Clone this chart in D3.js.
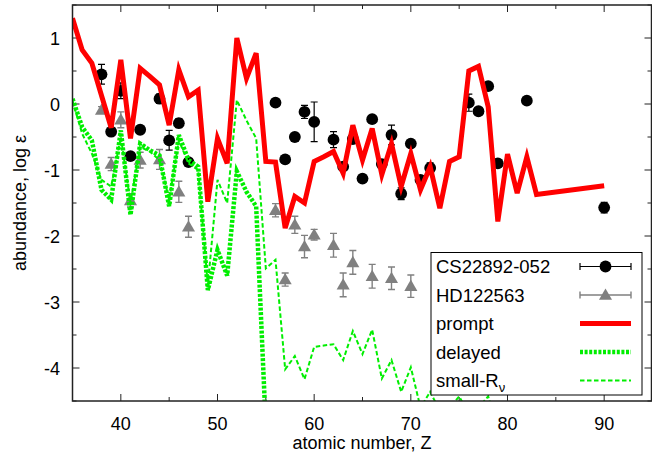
<!DOCTYPE html>
<html>
<head>
<meta charset="utf-8">
<script src="https://cdn.jsdelivr.net/npm/d3@7"></script>
<style>
  html, body { margin: 0; padding: 0; background: #fff; }
  svg { display: block; font-family: "Liberation Sans", Arial, sans-serif; }
</style>
</head>
<body>
<div id="chart"></div>
<script>
const width = 652;
const height = 460;

// CS22892-052 (black circles)
const csZ   = [38, 39, 40, 41, 42, 44, 45, 46, 47, 56, 57, 58, 59, 60, 62, 63, 64, 65, 66, 67, 68, 69, 70, 71, 72, 76, 77, 78, 79, 82, 90];
const csVal = [0.45, -0.42, 0.20, -0.79, -0.39, 0.08, -0.55, -0.29, -0.88, 0.02, -0.84, -0.50, -0.12, -0.27, -0.54, -0.95, -0.53, -1.13, -0.23, -0.91, -0.47, -1.36, -0.60, -1.15, -0.97, 0.02, -0.11, 0.27, -0.90, 0.05, -1.57];
const csErr = [0.15, 0, 0.12, 0, 0, 0.07, 0.15, 0.07, 0, 0, 0, 0, 0.1, 0.3, 0.12, 0, 0, 0, 0, 0, 0.15, 0.09, 0, 0.06, 0.08, 0.13, 0, 0, 0, 0, 0.08];

// HD122563 (grey triangles)
const hdZ   = [38, 39, 40, 41, 42, 44, 46, 47, 56, 57, 58, 59, 60, 62, 63, 64, 66, 68, 70];
const hdVal = [-0.09, -0.91, -0.24, -1.46, -0.85, -0.84, -1.33, -1.86, -1.61, -2.66, -1.83, -2.16, -1.98, -2.14, -2.74, -2.40, -2.61, -2.64, -2.76];
const hdErr = [0.05, 0.1, 0.12, 0.1, 0.12, 0.15, 0.16, 0.16, 0.1, 0.1, 0.13, 0.17, 0.08, 0.18, 0.18, 0.18, 0.18, 0.17, 0.17];

// model curves
const promptZ   = [35, 36, 37, 38, 39, 40, 41, 42, 43, 44, 45, 46, 47, 48, 49, 50, 51, 52, 53, 54, 55, 56, 57, 58, 59, 60, 61, 62, 63, 64, 65, 66, 67, 68, 69, 70, 71, 72, 73, 74, 75, 76, 77, 78, 79, 80, 81, 82, 83, 90];
const promptVal = [1.30, 0.82, 0.62, 0.13, -0.36, 0.67, -0.52, 0.54, 0.42, 0.29, -0.32, 0.52, 0.11, 0.21, -1.48, -0.52, -0.90, 1.00, 0.39, 0.77, -0.87, -0.88, -1.88, -1.40, -1.50, -0.87, -0.80, -0.72, -1.05, -0.32, -0.85, -0.37, -1.07, -0.60, -1.25, -0.75, -1.30, -0.95, -1.58, -0.87, -0.80, 0.50, 0.57, -0.04, -1.78, -0.76, -1.35, -0.80, -1.37, -1.24];

const delayedZ   = [35, 36, 37, 38, 39, 40, 41, 42, 43, 44, 45, 46, 47, 48, 49, 50, 51, 52, 53, 54, 55];
const delayedVal = [0.08, -0.35, -0.55, -1.30, -1.45, -0.40, -1.68, -0.60, -0.70, -0.78, -1.55, -0.47, -0.85, -0.95, -2.82, -2.21, -2.60, -1.02, -1.33, -1.55, -4.90];

const smallZ   = [35, 36, 37, 38, 39, 40, 41, 42, 43, 44, 45, 46, 47, 48, 49, 50, 51, 52, 53, 54, 55, 56, 57, 58, 59, 60, 61, 62, 63, 64, 65, 66, 67, 68, 69, 70, 71, 72, 73, 74, 75, 76, 77, 78, 79, 80, 81, 82, 83];
const smallVal = [0.05, -0.45, -0.75, -1.15, -1.25, -0.50, -1.50, -0.65, -0.72, -0.85, -1.45, -0.55, -0.90, -1.00, -2.75, -1.15, -1.50, 0.06, -0.25, -0.52, -2.49, -2.36, -4.02, -3.82, -4.17, -3.68, -3.66, -3.64, -3.88, -3.44, -3.79, -3.42, -4.16, -3.88, -4.36, -3.99, -4.60, -4.36, -4.65, -4.60, -4.43, -4.70, -4.60, -4.43, -4.90, -4.60, -4.80, -4.60, -4.90];

const xTicks = [40, 50, 60, 70, 80, 90];
const yTicks = [-4, -3, -2, -1, 0, 1];

const green = "#00ee00";
const fontSize = "18px";

const x = d3.scaleLinear().domain([35, 95]).range([72.5, 652.5]);
const y = d3.scaleLinear().domain([-4.5, 1.5]).range([401, 5]);
const plotLeft = x(35), plotRight = 651.5, plotTop = y(1.5), plotBottom = y(-4.5);

const svg = d3.select("#chart").append("svg")
    .attr("width", width)
    .attr("height", height);

svg.append("defs").append("clipPath").attr("id", "plotclip")
    .append("rect")
    .attr("x", plotLeft).attr("y", plotTop)
    .attr("width", plotRight - plotLeft).attr("height", plotBottom - plotTop);

const zip = (zs, vs, es) => zs.map((z, i) => ({ z: z, v: vs[i], e: es ? es[i] : 0 }));

// ticks on all four sides, pointing inwards
const ticks = svg.append("g").attr("stroke", "#222").attr("stroke-width", 1);
d3.range(35, 95.1, 5).forEach(t => {
    const len = t % 10 === 0 ? 7 : 4;
    ticks.append("line").attr("x1", x(t)).attr("x2", x(t)).attr("y1", plotBottom).attr("y2", plotBottom - len);
    ticks.append("line").attr("x1", x(t)).attr("x2", x(t)).attr("y1", plotTop).attr("y2", plotTop + len);
});
d3.range(-4.5, 1.51, 0.5).forEach(t => {
    const len = Math.abs(t % 1) < 1e-6 ? 7 : 4;
    ticks.append("line").attr("x1", plotLeft).attr("x2", plotLeft + len).attr("y1", y(t)).attr("y2", y(t));
    ticks.append("line").attr("x1", plotRight).attr("x2", plotRight - len).attr("y1", y(t)).attr("y2", y(t));
});

svg.append("g").selectAll("text")
    .data(xTicks).enter().append("text")
    .attr("x", d => x(d)).attr("y", 429.5)
    .attr("text-anchor", "middle")
    .style("font-size", fontSize)
    .text(d => d);

svg.append("g").selectAll("text")
    .data(yTicks).enter().append("text")
    .attr("x", 60).attr("y", d => y(d) + 6.5)
    .attr("text-anchor", "end")
    .style("font-size", fontSize)
    .text(d => d);

svg.append("text")
    .attr("x", (plotLeft + plotRight) / 2).attr("y", 449)
    .attr("text-anchor", "middle")
    .style("font-size", fontSize)
    .text("atomic number, Z");

svg.append("text")
    .attr("transform", `translate(26, ${(plotTop + plotBottom) / 2}) rotate(-90)`)
    .attr("text-anchor", "middle")
    .style("font-size", fontSize)
    .text("abundance, log ε");

const plot = svg.append("g").attr("clip-path", "url(#plotclip)");

// error bars with caps
function errorBars(g, data, color, sw) {
    const withErr = data.filter(d => d.e > 0);
    g.selectAll(null).data(withErr).enter().append("path")
        .attr("d", d => {
            const cx = x(d.z), y0 = y(d.v - d.e), y1 = y(d.v + d.e);
            return `M${cx},${y0}V${y1}M${cx - 3.5},${y0}H${cx + 3.5}M${cx - 3.5},${y1}H${cx + 3.5}`;
        })
        .attr("fill", "none")
        .attr("stroke", color)
        .attr("stroke-width", sw);
}

const triangle = d3.symbol().type(d3.symbolTriangle).size(74);

const csData = zip(csZ, csVal, csErr);
const hdData = zip(hdZ, hdVal, hdErr);

const csG = plot.append("g");
errorBars(csG, csData, "#000", 1.2);
csG.selectAll("circle").data(csData).enter().append("circle")
    .attr("cx", d => x(d.z)).attr("cy", d => y(d.v))
    .attr("r", 5.9)
    .attr("fill", "#000");

const hdG = plot.append("g");
errorBars(hdG, hdData, "#808080", 1.4);
hdG.selectAll("path.tri").data(hdData).enter().append("path")
    .attr("class", "tri")
    .attr("transform", d => `translate(${x(d.z)},${y(d.v) + 1})`)
    .attr("d", triangle)
    .attr("fill", "#808080");

const line = d3.line().x(d => x(d.z)).y(d => y(d.v));

plot.append("path")
    .datum(zip(promptZ, promptVal))
    .attr("d", line)
    .attr("fill", "none")
    .attr("stroke", "#ff0000")
    .attr("stroke-width", 5)
    .attr("stroke-linejoin", "miter");

plot.append("path")
    .datum(zip(delayedZ, delayedVal))
    .attr("d", line)
    .attr("fill", "none")
    .attr("stroke", green)
    .attr("stroke-width", 4.5)
    .attr("stroke-dasharray", "3,1.6");

plot.append("path")
    .datum(zip(smallZ, smallVal))
    .attr("d", line)
    .attr("fill", "none")
    .attr("stroke", green)
    .attr("stroke-width", 2)
    .attr("stroke-dasharray", "4.5,2.5");

// frame
svg.append("rect")
    .attr("x", plotLeft).attr("y", plotTop)
    .attr("width", plotRight - plotLeft).attr("height", plotBottom - plotTop)
    .attr("fill", "none")
    .attr("stroke", "#222")
    .attr("stroke-width", 1.5);

// legend
const legend = svg.append("g");
legend.append("rect")
    .attr("x", 431).attr("y", 252.5)
    .attr("width", 211).attr("height", 142.5)
    .attr("fill", "#fff")
    .attr("stroke", "#000")
    .attr("stroke-width", 1);

const rowY = [266.5, 295, 323.5, 352, 380.5];
const sx0 = 580, sx1 = 631, sxm = 605.5;
const labels = ["CS22892-052", "HD122563", "prompt", "delayed", "small-R"];

labels.forEach((name, i) => {
    const t = legend.append("text")
        .attr("x", 436).attr("y", rowY[i] + 6.5)
        .style("font-size", "18.5px")
        .text(name);
    if (i === 4) {
        t.append("tspan").attr("dy", 5).style("font-size", "13px").text("ν");
    }
});

[["#000", 1.2], ["#808080", 1.4]].forEach(([c, sw], i) => {
    const yy = rowY[i];
    legend.append("path")
        .attr("d", `M${sx0},${yy}H${sx1}M${sx0},${yy - 3.5}V${yy + 3.5}M${sx1},${yy - 3.5}V${yy + 3.5}`)
        .attr("fill", "none").attr("stroke", c).attr("stroke-width", sw);
});
legend.append("circle").attr("cx", sxm).attr("cy", rowY[0]).attr("r", 5.9).attr("fill", "#000");
legend.append("path")
    .attr("transform", `translate(${sxm},${rowY[1] + 1})`)
    .attr("d", triangle).attr("fill", "#808080");

legend.append("line")
    .attr("x1", sx0).attr("x2", sx1).attr("y1", rowY[2]).attr("y2", rowY[2])
    .attr("stroke", "#ff0000").attr("stroke-width", 5);
legend.append("line")
    .attr("x1", sx0).attr("x2", sx1).attr("y1", rowY[3]).attr("y2", rowY[3])
    .attr("stroke", green).attr("stroke-width", 4.5).attr("stroke-dasharray", "3,1.6");
legend.append("line")
    .attr("x1", sx0).attr("x2", sx1).attr("y1", rowY[4]).attr("y2", rowY[4])
    .attr("stroke", green).attr("stroke-width", 2).attr("stroke-dasharray", "4.5,2.5");
</script>
</body>
</html>
